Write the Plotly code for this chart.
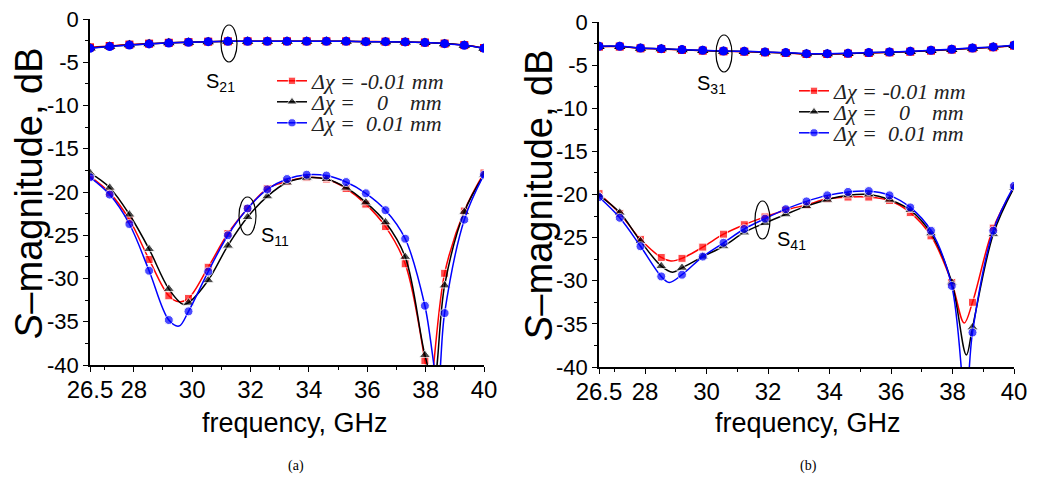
import plotly.graph_objects as go

# the page puts the figure 8 px in from the top-left corner, so the figure is
# made that much smaller and every pixel position below is in window pixels
PAGE_PAD = 8
W, H = 1041 - PAGE_PAD, 479 - PAGE_PAD

# frequency points (GHz), 21 markers per curve
freq = [26.5, 27.175, 27.85, 28.525, 29.2, 29.875, 30.55, 31.225, 31.9, 32.575,
        33.25, 33.925, 34.6, 35.275, 35.95, 36.625, 37.3, 37.975, 38.65, 39.325, 40.0]

# ---- panel (a) ----
s21_red = [-3.28, -3.12, -2.96, -2.85, -2.75, -2.68, -2.62, -2.58, -2.58, -2.58, -2.58,
           -2.58, -2.58, -2.58, -2.61, -2.62, -2.65, -2.72, -2.84, -3.02, -3.36]
s21_black = [-3.34, -3.16, -2.98, -2.87, -2.76, -2.69, -2.62, -2.58, -2.58, -2.58, -2.58,
             -2.58, -2.58, -2.58, -2.62, -2.62, -2.65, -2.73, -2.85, -3.03, -3.37]
s21_blue = [-3.38, -3.19, -3.0, -2.88, -2.77, -2.69, -2.62, -2.58, -2.58, -2.58, -2.58,
            -2.58, -2.58, -2.58, -2.62, -2.62, -2.65, -2.73, -2.85, -3.04, -3.38]

s11_red = [-18.2, -20.1, -23.2, -27.8, -32.0, -32.3, -28.7, -24.8, -21.9, -19.6, -18.8,
           -18.3, -18.5, -19.6, -21.4, -24.0, -28.3, -39.5, -29.4, -22.2, -17.8]
s11_black = [-17.8, -19.5, -22.6, -26.6, -31.2, -32.8, -30.2, -26.2, -22.9, -20.5, -18.9,
             -18.35, -18.5, -19.5, -21.2, -23.5, -27.5, -38.85, -30.8, -22.3, -18.0]
s11_blue = [-18.3, -20.3, -23.7, -29.1, -34.8, -33.8, -29.2, -25.0, -21.9, -19.7, -18.5,
            -18.0, -18.1, -18.85, -20.15, -22.1, -25.4, -33.15, -34.0, -23.2, -18.0]

# minima of the smooth curves between markers
s11_red_min_x, s11_red_min_y = [29.55, 38.13], [-32.7, -43.0]
s11_black_min_x, s11_black_min_y = [29.7, 38.27], [-33.0, -42.0]
s11_blue_min_x, s11_blue_min_y = [29.55, 38.42], [-35.5, -42.0]

# ---- panel (b) ----
s31_red = [-2.85, -2.85, -3.05, -3.13, -3.24, -3.32, -3.4, -3.44, -3.52, -3.59, -3.71,
           -3.71, -3.67, -3.59, -3.52, -3.44, -3.32, -3.2, -3.05, -2.93, -2.74]
s31_black = [-2.83, -2.83, -3.03, -3.11, -3.22, -3.3, -3.38, -3.42, -3.5, -3.57, -3.69,
             -3.69, -3.65, -3.57, -3.5, -3.42, -3.3, -3.18, -3.03, -2.91, -2.72]
s31_blue = [-2.81, -2.81, -3.01, -3.09, -3.2, -3.28, -3.36, -3.4, -3.48, -3.55, -3.67,
            -3.67, -3.63, -3.55, -3.48, -3.4, -3.28, -3.16, -3.01, -2.89, -2.7]

s41_red = [-19.9, -22.2, -25.2, -27.3, -27.4, -26.1, -24.6, -23.5, -22.6, -21.8, -21.2,
           -20.5, -20.3, -20.3, -20.7, -22.1, -24.8, -30.2, -32.5, -23.9, -19.2]
s41_black = [-20.1, -22.1, -25.4, -28.3, -28.5, -27.2, -26.0, -24.4, -23.3, -22.3, -21.35,
             -20.6, -20.1, -20.0, -20.6, -21.8, -24.5, -30.2, -35.4, -24.6, -19.2]
s41_blue = [-20.3, -22.7, -26.0, -29.5, -29.3, -27.2, -25.6, -24.0, -22.8, -21.7, -20.8,
            -20.1, -19.7, -19.6, -20.1, -21.5, -24.2, -30.6, -36.0, -24.2, -19.0]

s41_red_min_x, s41_red_min_y = [28.84, 38.38], [-27.7, -34.9]
s41_black_min_x, s41_black_min_y = [28.89, 38.45], [-29.0, -38.6]
s41_blue_min_x, s41_blue_min_y = [28.78, 38.43], [-30.2, -44.0]

x_ticks = [26.5, 28, 30, 32, 34, 36, 38, 40]
x_minor = [27, 29, 31, 33, 35, 37, 39]
y_ticks = [0, -5, -10, -15, -20, -25, -30, -35, -40]

names = ["\u0394\u03c7 = -0.01 mm",
         "\u0394\u03c7 =\u00a0\u00a0\u00a0\u00a00\u00a0\u00a0\u00a0 mm",
         "\u0394\u03c7 =\u00a0\u00a00.01 mm"]
colors = ["#ff0000", "#000000", "#0000ff"]
symbols = ["square", "triangle-up", "circle"]
msizes = [8, 10, 9]


def px(x):
    return (x - PAGE_PAD) / W


def py(y):
    return 1 - (y - PAGE_PAD) / H


def merged(xs, ys, ex, ey, size):
    pts = [(a, b, size) for a, b in zip(xs, ys)] + [(a, b, 0) for a, b in zip(ex, ey)]
    pts.sort(key=lambda p: p[0])
    return [p[0] for p in pts], [p[1] for p in pts], [p[2] for p in pts]


fig = go.Figure()

# one legend per entry so the rows can sit as close as in the original
panels = [
    ("x", "y", ["legend", "legend2", "legend3"], 272, [81, 102, 123],
     [s21_red, s21_black, s21_blue], [s11_red, s11_black, s11_blue],
     [(s11_red_min_x, s11_red_min_y), (s11_black_min_x, s11_black_min_y),
      (s11_blue_min_x, s11_blue_min_y)]),
    ("x2", "y2", ["legend4", "legend5", "legend6"], 794, [91, 112, 133],
     [s31_red, s31_black, s31_blue], [s41_red, s41_black, s41_blue],
     [(s41_red_min_x, s41_red_min_y), (s41_black_min_x, s41_black_min_y),
      (s41_blue_min_x, s41_blue_min_y)]),
]

legends = {}
for xa, ya, legs, lx, rows, tops, bottoms, mins in panels:
    for i in range(3):
        fig.add_trace(go.Scatter(
            x=freq, y=tops[i], mode="lines+markers", xaxis=xa, yaxis=ya,
            line=dict(color=colors[i], width=1.5, shape="spline"),
            marker=dict(symbol=symbols[i], size=msizes[i], color=colors[i]),
            showlegend=False))
    for i in range(3):
        mx, my, ms = merged(freq, bottoms[i], mins[i][0], mins[i][1], msizes[i])
        fig.add_trace(go.Scatter(
            x=mx, y=my, mode="lines+markers", xaxis=xa, yaxis=ya, name=names[i],
            line=dict(color=colors[i], width=1.5, shape="spline"),
            marker=dict(symbol=symbols[i], size=ms, color=colors[i]),
            showlegend=True, legend=legs[i]))
        legends[legs[i]] = dict(
            x=px(lx), y=py(rows[i]), xanchor="left", yanchor="middle",
            bgcolor="rgba(0,0,0,0)", borderwidth=0,
            font=dict(family="Liberation Serif", size=22, style="italic", color="#222"))

axis_common = dict(showline=True, linecolor="black", linewidth=1.5, showgrid=False,
                   zeroline=False, ticks="outside", tickcolor="black", ticklen=5,
                   tickwidth=1.2, mirror=False, automargin=False,
                   ticklabeloverflow="allow")

xaxis_style = dict(axis_common, range=[26.5, 40], tickmode="array", tickvals=x_ticks,
                   ticktext=[str(t) for t in x_ticks], ticklabelstandoff=-3,
                   tickfont=dict(size=24, family="Liberation Sans", color="black"),
                   minor=dict(tickmode="array", tickvals=x_minor, ticklen=3,
                              ticks="outside", tickcolor="black"))
yaxis_style = dict(axis_common, range=[-40, 0], tickmode="array", tickvals=y_ticks,
                   ticktext=[str(t) for t in y_ticks],
                   tickfont=dict(size=22, family="Liberation Sans", color="black"),
                   minor=dict(dtick=2.5, tick0=0, ticklen=3, ticks="outside",
                              tickcolor="black"))

fig.update_layout(
    width=W, height=H,
    margin=dict(l=0, r=0, t=0, b=0, autoexpand=False),
    paper_bgcolor="white", plot_bgcolor="white",
    font=dict(family="Liberation Sans, Arial", color="black"),
    xaxis=dict(xaxis_style, domain=[px(90), px(484)], anchor="y"),
    yaxis=dict(yaxis_style, domain=[py(365), py(19)], anchor="x"),
    xaxis2=dict(xaxis_style, domain=[px(599), px(1014)], anchor="y2"),
    yaxis2=dict(yaxis_style, domain=[py(367), py(22)], anchor="x2"),
    **legends,
)

ann = []
# axis titles
for cx in (295, 808):
    ann.append(dict(text="frequency, GHz", x=px(cx), y=py(423), xref="paper", yref="paper",
                    xanchor="center", yanchor="middle", showarrow=False,
                    font=dict(size=27, family="Liberation Sans")))
for cx, cy in ((29, 193), (539, 195)):
    ann.append(dict(text="<i>S</i>\u2013magnitude, dB", x=px(cx), y=py(cy), xref="paper",
                    yref="paper", xanchor="center", yanchor="middle", showarrow=False,
                    textangle=-90, font=dict(size=38, family="Liberation Sans")))
for cx, t in ((296, "(a)"), (808, "(b)")):
    ann.append(dict(text=t, x=px(cx), y=py(466), xref="paper", yref="paper",
                    xanchor="center", yanchor="middle", showarrow=False,
                    font=dict(size=14, family="Liberation Serif")))
# curve labels
for lx, ly, t in ((204, 83, "S<sub>21</sub>"), (259, 236, "S<sub>11</sub>"),
                  (695, 85, "S<sub>31</sub>"), (775, 240, "S<sub>41</sub>")):
    ann.append(dict(text=t, x=px(lx), y=py(ly), xref="paper", yref="paper",
                    xanchor="left", yanchor="middle", showarrow=False,
                    font=dict(size=20, family="Liberation Sans")))
fig.update_layout(annotations=ann)

# ellipses round the marked points
for x0, y0, x1, y1 in ((221, 25, 237, 62), (239, 197, 256, 235),
                       (716, 35, 732, 72), (755, 201, 770, 239)):
    fig.add_shape(type="circle", xref="paper", yref="paper",
                  x0=px(x0), x1=px(x1), y0=py(y1), y1=py(y0),
                  line=dict(color="black", width=1.2))

fig.write_html("out.html")
